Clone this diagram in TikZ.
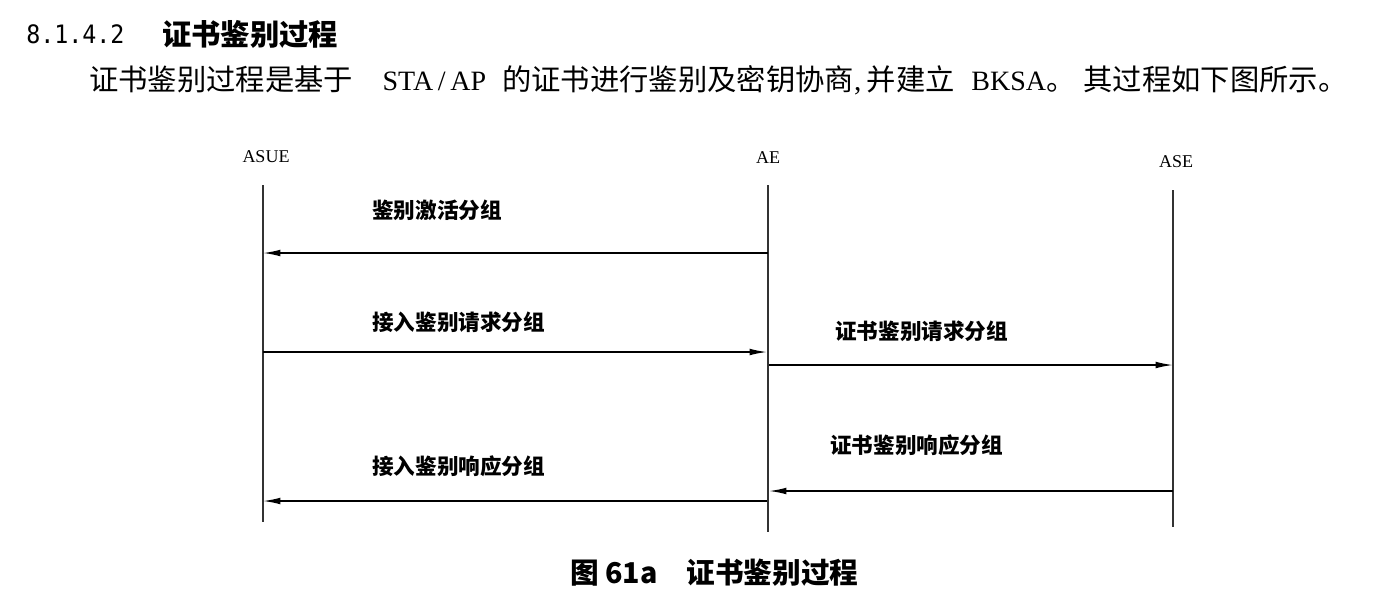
\documentclass[tikz,border=0pt]{standalone}
\usepackage{fontspec}
\setmainfont{Liberation Serif}
\newfontfamily\cjk{Noto Sans CJK SC}
\newfontfamily\monofnt[FakeStretch=0.92]{DejaVu Sans Mono}
\usetikzlibrary{arrows.meta}
\begin{document}
\begin{tikzpicture}[x=0.75pt,y=-0.75pt,
  lifeline/.style={line width=1.2pt,draw=black!80},
  msg/.style={line width=1.1pt,-{Latex[length=13pt,width=5pt]}},
  party/.style={inner sep=0pt,font=\fontsize{13.5pt}{14pt}\selectfont},
  msglabel/.style={inner sep=0pt,anchor=west,font=\cjk\bfseries\fontsize{16.2pt}{17pt}\selectfont},
  plain/.style={inner sep=0pt,anchor=west}]
\useasboundingbox (0,0) rectangle (1382,608);
% heading
\node[plain] (num) at (26,34) {\monofnt\fontsize{19pt}{20pt}\selectfont 8.1.4.2};
\node[plain] (head) at (162,34) {\cjk\bfseries\fontsize{22pt}{23pt}\selectfont 证书鉴别过程};
\node[plain] (body) at (89,80) {\fontsize{22pt}{23pt}\selectfont\cjk 证书鉴别过程是基于\hspace{22pt}\rmfamily\fontsize{21pt}{23pt}\selectfont STA\,/\,AP\hspace{12pt}\cjk\fontsize{22pt}{23pt}\selectfont 的证书进行鉴别及密钥协商\rmfamily,\hspace{4pt}\cjk 并建立\hspace{12.5pt}\rmfamily\fontsize{21pt}{23pt}\selectfont BKSA\cjk\fontsize{22pt}{23pt}\selectfont 。\hspace{6pt}其过程如下图所示。};
% parties
\node[party] (asue) at (266,157) {ASUE};
\node[party] (ae) at (768,158) {AE};
\node[party] (ase) at (1176,162) {ASE};
\coordinate (asueT) at (263,185); \coordinate (asueB) at (263,522);
\coordinate (aeT) at (768,185);   \coordinate (aeB) at (768,532);
\coordinate (aseT) at (1173,190); \coordinate (aseB) at (1173,527);
\draw[lifeline] (asueT) -- (asueB);
\draw[lifeline] (aeT) -- (aeB);
\draw[lifeline] (aseT) -- (aseB);
% messages
\coordinate (m1s) at (768,253); \coordinate (m1e) at (263,253);
\coordinate (m2s) at (263,352); \coordinate (m2e) at (767,352);
\coordinate (m3s) at (769,365); \coordinate (m3e) at (1173,365);
\coordinate (m4s) at (1173,491); \coordinate (m4e) at (769,491);
\coordinate (m5s) at (767,501); \coordinate (m5e) at (263,501);
\draw[msg] (m1s) -- (m1e);
\draw[msg] (m2s) -- (m2e);
\draw[msg] (m3s) -- (m3e);
\draw[msg] (m4s) -- (m4e);
\draw[msg] (m5s) -- (m5e);
\node[msglabel] (l1) at (372,210) {鉴别激活分组};
\node[msglabel] (l2) at (372,322) {接入鉴别请求分组};
\node[msglabel] (l3) at (835,331) {证书鉴别请求分组};
\node[msglabel] (l4) at (830,445) {证书鉴别响应分组};
\node[msglabel] (l5) at (372,466) {接入鉴别响应分组};
% caption
\node[plain] (cap) at (570,573) {\cjk\bfseries\fontsize{21.5pt}{22pt}\selectfont 图 61a\hspace{1em}证书鉴别过程};
\end{tikzpicture}
\end{document}
